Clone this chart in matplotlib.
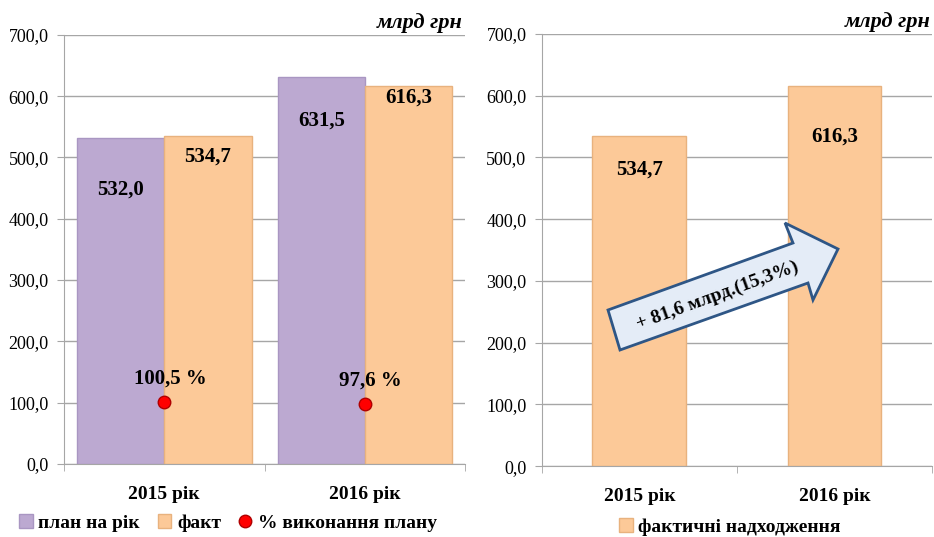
import numpy as np
import matplotlib
matplotlib.use("Agg")
import matplotlib.pyplot as plt
from matplotlib.patches import Polygon, Patch
from matplotlib.lines import Line2D

plt.rcParams['font.family'] = ['Liberation Serif', 'DejaVu Serif']

years = ['2015 рік', '2016 рік']
plan = [532.0, 631.5]
fact = [534.7, 616.3]
pct = [100.5, 97.6]
pct_labels = ['100,5 %', '97,6 %']
yticks = np.arange(0, 701, 100)

purple = '#BCA9D1'
purple_edge = '#A996C2'
orange = '#FCC998'
orange_edge = '#E8B27E'
grid_c = '#A6A6A6'


def fmt(v):
    return f'{v:.1f}'.replace('.', ',')


def style_axes(ax):
    ax.set_xlim(-0.5, 1.5)
    ax.set_ylim(0, 700)
    ax.set_yticks(yticks)
    ax.set_yticklabels([fmt(v) for v in yticks], fontsize=13)
    ax.set_xticks([0, 1])
    ax.set_xticklabels(years, fontsize=14, fontweight='bold')
    ax.set_xticks([-0.5, 0.5, 1.5], minor=True)
    ax.tick_params(axis='x', which='major', length=0, pad=16)
    ax.tick_params(axis='x', which='minor', length=5, color=grid_c)
    ax.tick_params(axis='y', length=5, color=grid_c, pad=6)
    ax.yaxis.grid(True, color=grid_c, linewidth=1)
    ax.set_axisbelow(True)
    for s in ['top', 'right']:
        ax.spines[s].set_visible(False)
    for s in ['left', 'bottom']:
        ax.spines[s].set_color(grid_c)
    ax.text(0.995, 1.027, 'млрд грн', transform=ax.transAxes, ha='right', va='center',
            fontsize=16, fontweight='bold', fontstyle='italic')


fig = plt.figure(figsize=(9.34, 5.37), dpi=100)
ax1 = fig.add_axes([0.0685, 0.136, 0.4295, 0.799])
ax2 = fig.add_axes([0.580, 0.132, 0.418, 0.805])

x = np.arange(len(years))
w = 0.435
ax1.bar(x - w / 2, plan, w, color=purple, edgecolor=purple_edge, linewidth=1)
ax1.bar(x + w / 2, fact, w, color=orange, edgecolor=orange_edge, linewidth=1)
ax1.plot(x, pct, 'o', color='#FF0000', markeredgecolor='#B00000', markersize=9, zorder=5)

plan_label_y = [447, 560]
fact_label_y = [501, 597]
for i in range(len(years)):
    ax1.text(x[i] - w / 2, plan_label_y[i], fmt(plan[i]), ha='center', va='center',
             fontsize=15, fontweight='bold')
    ax1.text(x[i] + w / 2, fact_label_y[i], fmt(fact[i]), ha='center', va='center',
             fontsize=15, fontweight='bold')
    ax1.text(x[i] + 0.03, pct[i] + 38, pct_labels[i], ha='center', va='center',
             fontsize=15, fontweight='bold')
style_axes(ax1)

w2 = 0.48
ax2.bar(x, fact, w2, color=orange, edgecolor=orange_edge, linewidth=1)
fact2_label_y = [480, 533]
for i in range(len(years)):
    ax2.text(x[i], fact2_label_y[i], fmt(fact[i]), ha='center', va='center',
             fontsize=15, fontweight='bold')
style_axes(ax2)

# growth arrow (pixel coords from top-left, converted to figure fraction)
W, H = 934, 537
pts = [(608, 310), (793, 243), (785, 223), (838, 249), (813, 300), (808, 283), (620, 350)]
arrow = Polygon([(px / W, 1 - py / H) for px, py in pts], closed=True,
                transform=fig.transFigure, facecolor='#E4ECF7', edgecolor='#2E5686',
                linewidth=2, zorder=10)
fig.add_artist(arrow)
fig.text(718 / W, 1 - 296 / H, '+ 81,6 млрд.(15,3%)', ha='center', va='center',
         rotation=20, fontsize=14, fontweight='bold', zorder=11)

# legends
h1 = [Patch(facecolor=purple, edgecolor=purple_edge),
      Patch(facecolor=orange, edgecolor=orange_edge),
      Line2D([], [], marker='o', linestyle='', color='#FF0000',
             markeredgecolor='#B00000', markersize=9)]
fig.legend(h1, ['план на рік', 'факт', '% виконання плану'], loc='center',
           bbox_to_anchor=(228 / W, 1 - 523 / H), ncol=3, frameon=False,
           prop={'size': 14, 'weight': 'bold'}, handlelength=0.7, handleheight=0.7,
           handletextpad=0.3, columnspacing=0.9)
fig.legend([Patch(facecolor=orange, edgecolor=orange_edge)], ['фактичні надходження'],
           loc='center', bbox_to_anchor=(730 / W, 1 - 527 / H), frameon=False,
           prop={'size': 14, 'weight': 'bold'}, handlelength=0.7, handleheight=0.7,
           handletextpad=0.3)

fig.savefig('out.png', dpi=100)
